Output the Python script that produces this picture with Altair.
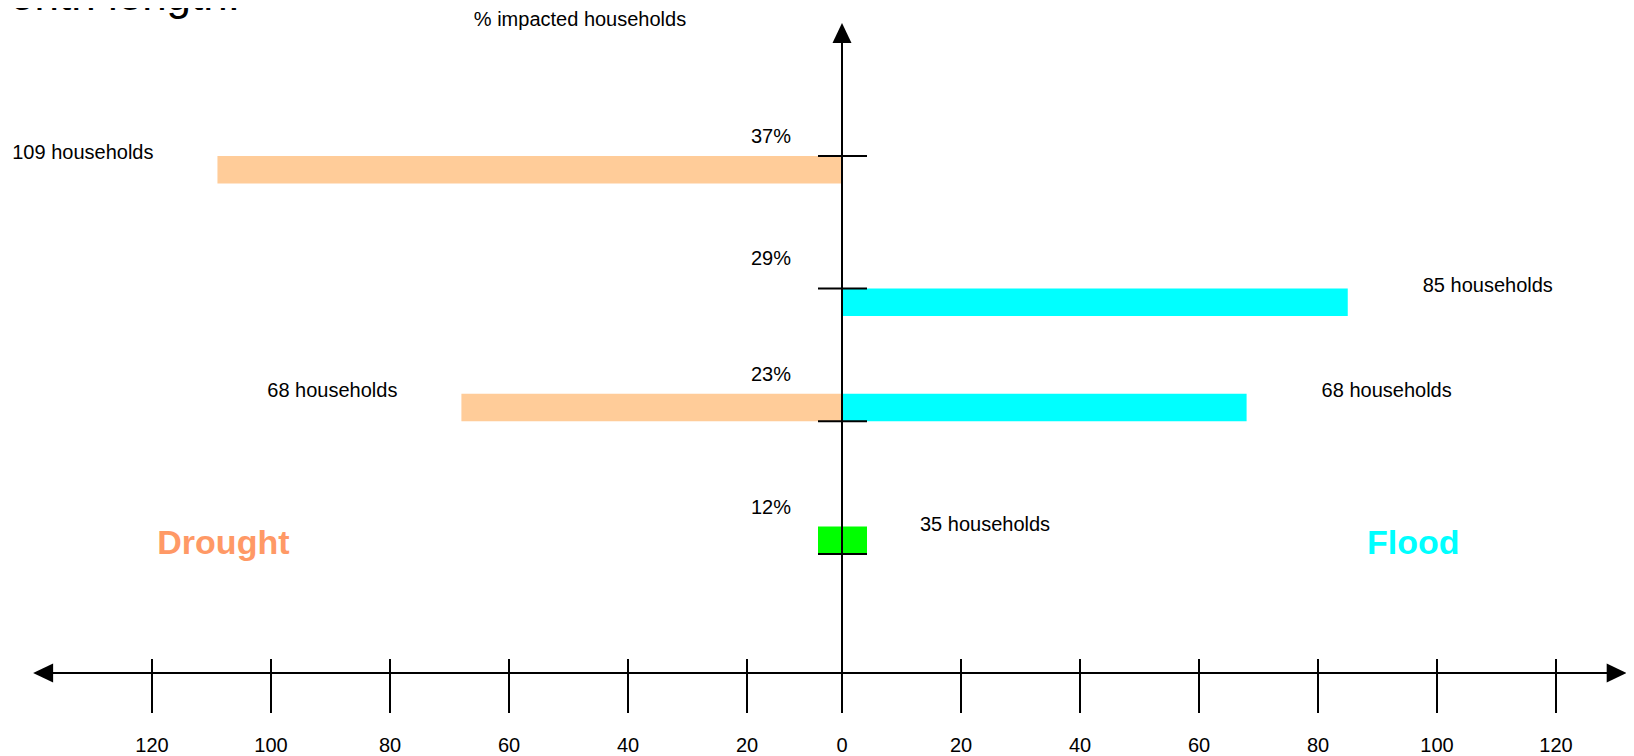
import altair as alt
import pandas as pd

# ---------------- data ----------------
pct_labels = ["37%", "29%", "23%", "12%"]
rows = [4, 3, 2, 1]
drought_households = [109, None, 68, None]
flood_households = [None, 85, 68, None]
both_households = [None, None, None, 35]
axis_ticks = [-120, -100, -80, -60, -40, -20, 0, 20, 40, 60, 80, 100, 120]
axis_tick_labels = ["120", "100", "80", "60", "40", "20", "0",
                    "20", "40", "60", "80", "100", "120"]
y_axis_title = "% impacted households"
title_fragment = "onth length."

# ---------------- layout / style ----------------
PX_PER_ROW = 132.7
BAR = 27.5 / PX_PER_ROW
bar_side = {4: -1, 3: -1, 2: 1, 1: 1}        # -1: bar hangs below tick, +1: above
pct_gap_px = {4: 20, 3: 31, 2: 47, 1: 47}     # label cap-centre above tick
FONT = "Liberation Sans"
DROUGHT_BAR, FLOOD_BAR, BOTH_BAR = "#FFCC99", "#00FFFF", "#00FF00"
DROUGHT_TXT, FLOOD_TXT = "#FF9966", "#00FFFF"

xscale = alt.Scale(domain=[-120, -20, 0, 120], range=[144, 739, 834, 1548],
                   nice=False, zero=False)
yscale = alt.Scale(domain=[-0.522, 5.1146], nice=False, zero=False)

def X(f="x"):
    return alt.X(f"{f}:Q", scale=xscale, axis=None)

def Y(f="y"):
    return alt.Y(f"{f}:Q", scale=yscale, axis=None)

# bars
bar_recs, lab_recs = [], []
for p, r, d, f, b in zip(pct_labels, rows, drought_households, flood_households, both_households):
    lo, hi = (r - BAR, r) if bar_side[r] < 0 else (r, r + BAR)
    if d is not None:
        bar_recs.append(dict(series="Drought", x=-d, x2=0, y=lo, y2=hi))
        lab_recs.append(dict(kind="drought", x=-d, y=hi, text=f"{d} households"))
    if f is not None:
        bar_recs.append(dict(series="Flood", x=0, x2=f, y=lo, y2=hi))
        lab_recs.append(dict(kind="flood", x=f, y=hi, text=f"{f} households"))
    if b is not None:
        lab_recs.append(dict(kind="both", x=0, y=hi, text=f"{b} households"))
bars_df = pd.DataFrame(bar_recs)
labs_df = pd.DataFrame(lab_recs)
both_df = pd.DataFrame([dict(x=0, y=r, y2=r + BAR * bar_side[r])
                        for r, b in zip(rows, both_households) if b is not None])

pct_df = pd.DataFrame(dict(x=[0] * len(rows), text=pct_labels,
                           y=[r + (pct_gap_px[r] - 7) / PX_PER_ROW for r in rows]))
yticks_df = pd.DataFrame(dict(x=[0] * len(rows), y=rows))

AXIS_ROW = (686.7 - 673) / PX_PER_ROW
TICK_TOP = (686.7 - 659) / PX_PER_ROW
TICK_BOT = (686.7 - 713) / PX_PER_ROW
ARROW_UP_ROW = (686.7 - 33) / PX_PER_ROW
ARROW_BASE_ROW = (686.7 - 43) / PX_PER_ROW
LABEL_ROW = (686.7 - 752) / PX_PER_ROW
TITLE_ROW = (686.7 - 26) / PX_PER_ROW
X_LEFT, X_RIGHT = -138.3, 130.2

xticks_df = pd.DataFrame(dict(x=axis_ticks, text=axis_tick_labels,
                              y=[TICK_TOP] * len(axis_ticks), y2=[TICK_BOT] * len(axis_ticks),
                              ly=[LABEL_ROW] * len(axis_ticks)))
haxis_df = pd.DataFrame(dict(x=[X_LEFT], x2=[X_RIGHT], y=[AXIS_ROW]))
vaxis_df = pd.DataFrame(dict(x=[0], y=[TICK_BOT], y2=[ARROW_BASE_ROW]))

# ---------------- layers ----------------
bars = alt.Chart(bars_df).mark_rect().encode(
    x=X(), x2="x2", y=Y(), y2="y2",
    color=alt.Color("series:N", scale=alt.Scale(domain=["Drought", "Flood"],
                                                 range=[DROUGHT_BAR, FLOOD_BAR]), legend=None))
both_bar = alt.Chart(both_df).mark_rect(color=BOTH_BAR, xOffset=-24, x2Offset=25).encode(
    x=X(), x2="x", y=Y(), y2="y2")

haxis = alt.Chart(haxis_df).mark_rule(color="black", strokeWidth=2).encode(
    x=X(), x2="x2", y=Y())
vaxis = alt.Chart(vaxis_df).mark_rule(color="black", strokeWidth=2).encode(
    x=X(), y=Y(), y2="y2")
xticks = alt.Chart(xticks_df).mark_rule(color="black", strokeWidth=2).encode(
    x=X(), y=Y(), y2="y2")
xtick_labels = alt.Chart(xticks_df).mark_text(
    font=FONT, fontSize=20, color="black", align="center", baseline="alphabetic").encode(
    x=X(), y=Y("ly"), text="text:N")
yticks = alt.Chart(yticks_df).mark_rule(color="black", strokeWidth=2, xOffset=-24, x2Offset=25).encode(
    x=X(), x2="x", y=Y())

arrows_df = pd.DataFrame(dict(x=[X_LEFT, X_RIGHT], y=[AXIS_ROW, AXIS_ROW],
                              kind=["left", "right"]))
arrow_left = alt.Chart(arrows_df[arrows_df.kind == "left"]).mark_point(
    shape="M-1,0L1,-0.95L1,0.95Z", filled=True, size=400, color="black", opacity=1,
    strokeWidth=0).encode(x=X(), y=Y())
arrow_right = alt.Chart(arrows_df[arrows_df.kind == "right"]).mark_point(
    shape="M1,0L-1,-0.95L-1,0.95Z", filled=True, size=400, color="black", opacity=1,
    strokeWidth=0).encode(x=X(), y=Y())
arrow_up = alt.Chart(pd.DataFrame(dict(x=[0], y=[ARROW_UP_ROW]))).mark_point(
    shape="M0,-1L-0.95,1L0.95,1Z", filled=True, size=400, color="black", opacity=1,
    strokeWidth=0).encode(x=X(), y=Y())

pct_text = alt.Chart(pct_df).mark_text(
    font=FONT, fontSize=20, color="black", align="center", baseline="alphabetic", dx=-71).encode(
    x=X(), y=Y(), text="text:N")

lab_drought = alt.Chart(labs_df[labs_df.kind == "drought"]).mark_text(
    font=FONT, fontSize=20, color="black", align="right", baseline="alphabetic", dx=-64, dy=3).encode(
    x=X(), y=Y(), text="text:N")
lab_flood = alt.Chart(labs_df[labs_df.kind == "flood"]).mark_text(
    font=FONT, fontSize=20, color="black", align="left", baseline="alphabetic", dx=75, dy=3).encode(
    x=X(), y=Y(), text="text:N")
lab_both = alt.Chart(labs_df[labs_df.kind == "both"]).mark_text(
    font=FONT, fontSize=20, color="black", align="left", baseline="alphabetic", dx=78, dy=4).encode(
    x=X(), y=Y(), text="text:N")

ytitle = alt.Chart(pd.DataFrame(dict(x=[0], y=[TITLE_ROW], text=[y_axis_title]))).mark_text(
    font=FONT, fontSize=20, color="black", align="center", baseline="alphabetic", dx=-262).encode(
    x=X(), y=Y(), text="text:N")

names_df = pd.DataFrame(dict(x=[-108, 96], y=[1, 1], text=["Drought", "Flood"]))
names = alt.Chart(names_df).mark_text(
    font=FONT, fontSize=34, fontWeight="bold", align="center", baseline="alphabetic").encode(
    x=X(), y=Y(), text="text:N",
    color=alt.Color("text:N", scale=alt.Scale(domain=["Drought", "Flood"],
                                               range=[DROUGHT_TXT, FLOOD_TXT]), legend=None))

frag = alt.Chart(pd.DataFrame(dict(text=[title_fragment]))).mark_text(
    font=FONT, fontSize=44, color="black", align="right", baseline="alphabetic").encode(
    x=alt.value(232), y=alt.value(2), text="text:N")

chart = alt.layer(
    bars, both_bar, haxis, vaxis, xticks, yticks, arrow_left, arrow_right, arrow_up,
    xtick_labels, pct_text, lab_drought, lab_flood, lab_both, ytitle, names, frag
).resolve_scale(color="independent").properties(
    width=1618, height=748, padding=0, autosize=alt.AutoSizeParams(type="none")
).configure_view(stroke=None)

chart.save("out.html", embed_options={"renderer": "svg", "actions": False})
